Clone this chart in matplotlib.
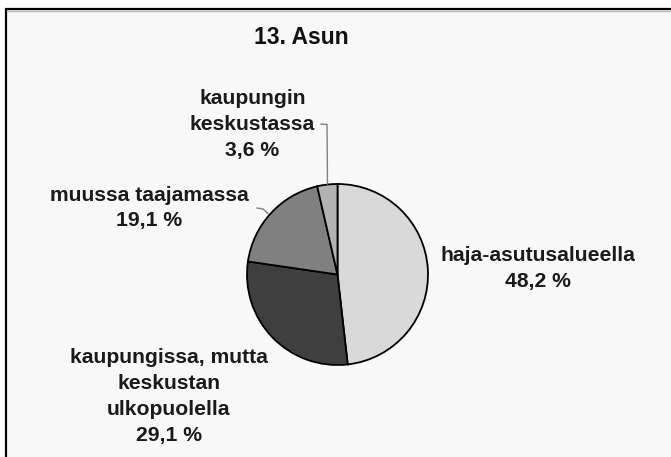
import matplotlib
matplotlib.use("Agg")
import matplotlib.pyplot as plt
from matplotlib.patches import Rectangle

title = "13. Asun"
labels = ["haja-asutusalueella", "kaupungissa, mutta\nkeskustan\nulkopuolella",
          "muussa taajamassa", "kaupungin\nkeskustassa"]
values = [48.2, 29.1, 19.1, 3.6]
pct_labels = ["48,2 %", "29,1 %", "19,1 %", "3,6 %"]
colors = ["#d9d9d9", "#3f3f3f", "#808080", "#b3b3b3"]

W, H = 671, 457
fig = plt.figure(figsize=(W / 100, H / 100), dpi=100)
fig.patch.set_facecolor("white")
ax = fig.add_axes([0, 0, 1, 1])

def Y(y):
    return H - y

# frame
ax.add_patch(Rectangle((5.5, -20), W + 40, Y(8.5) + 20, facecolor="#f8f8f8",
                       edgecolor="black", linewidth=1.6, zorder=0))
ax.plot([6.5, W], [Y(10.5), Y(10.5)], color="#bbbbbb", lw=1, zorder=1)

ax.pie(values, colors=colors, startangle=90, counterclock=False,
       center=(337.5, Y(274.5)), radius=90.5,
       wedgeprops=dict(edgecolor="black", linewidth=1.3), frame=True)
ax.set_xlim(0, W)
ax.set_ylim(0, H)
ax.set_aspect("equal")
ax.axis("off")

font = dict(family=["Liberation Sans", "DejaVu Sans"], weight="bold",
            color="#1a1a1a", fontsize=15.2, ha="center", va="center",
            linespacing=1.45)

ax.text(301, Y(38), title, fontsize=16.5, weight="bold",
        family=["Liberation Sans", "DejaVu Sans"], ha="center", va="center",
        color="#111111")

ax.text(538, Y(268.5), labels[0] + "\n" + pct_labels[0], **font)
ax.text(169, Y(396.5), labels[1] + "\n" + pct_labels[1], **font)
ax.text(149.5, Y(208), labels[2] + "\n" + pct_labels[2], **font)
ax.text(252.5, Y(124.5), labels[3] + "\n" + pct_labels[3], **font)

# leader lines
ax.plot([321, 327, 327.5], [Y(124), Y(124.5), Y(184)], color="#808080", lw=1)
ax.plot([257, 263, 268], [Y(208), Y(209), Y(213.5)], color="#808080", lw=1)

fig.savefig("out.png", dpi=100, facecolor=fig.get_facecolor())
